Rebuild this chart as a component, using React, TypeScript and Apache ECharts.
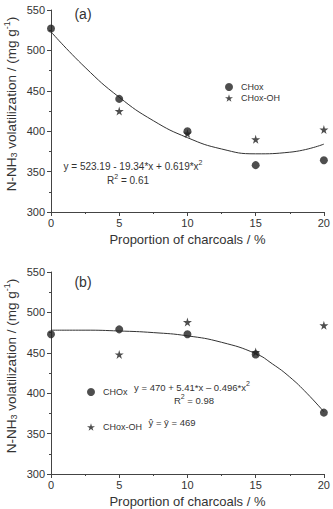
import React, { useEffect, useRef } from "react";
import * as echarts from "echarts";

const xValues = [0, 5, 10, 15, 20];
const xTicks = { min: 0, max: 20, interval: 5 };
const yTicks = { min: 300, max: 550, interval: 50 };

// Panel (a)
const aCHox = [527, 440, 400, 358, 364];
const aCHoxOH: (number | null)[] = [null, 425, 397, 390, 402];
const aFitX = [0, 2.5, 5, 7.5, 10, 12.5, 15, 17.5, 20];
const aFitY = [523, 479, 442, 413, 392, 378, 372, 374, 384];

// Panel (b)
const bCHOx = [473, 479, 473, 448, 376];
const bCHoxOH: (number | null)[] = [null, 448, 488, 451, 484];
const bFitX = [0, 2.5, 5, 7.5, 10, 12.5, 15, 16.25, 17.5, 18.75, 20];
const bFitY = [478, 478, 477, 475, 471, 463, 449, 436, 420, 400, 377];

const STAR =
  "path://M50,0 L61,35 L98,35 L68,57 L79,91 L50,70 L21,91 L32,57 L2,35 L39,35 Z";
const FONT = "'Liberation Sans', Arial, sans-serif";
const TXT = "#333";
const AXIS = "#444";
const MARK = "#222";

const pairs = (xs: number[], ys: (number | null)[]) =>
  xs.map((x, i) => [x, ys[i]]).filter((p) => p[1] !== null);

export default function App() {
  const ref = useRef<HTMLDivElement>(null);
  useEffect(() => {
    if (!ref.current) return;
    document.body.style.margin = "0";
    const chart = echarts.init(ref.current, undefined, { renderer: "svg" });

    const xAxisBase = (gridIndex: number) => ({
      type: "value",
      gridIndex,
      ...xTicks,
      name: "Proportion of charcoals / %",
      nameLocation: "middle",
      nameGap: 21,
      nameTextStyle: { fontSize: 13, color: TXT, fontFamily: FONT },
      axisLine: { show: true, lineStyle: { color: AXIS, width: 1 } },
      axisTick: { show: true, length: 4, lineStyle: { color: AXIS } },
      minorTick: { show: true, splitNumber: 2, length: 2, lineStyle: { color: AXIS } },
      axisLabel: { fontSize: 11, color: TXT, fontFamily: FONT, margin: 5 },
      splitLine: { show: false },
    });
    const yAxisBase = (gridIndex: number) => ({
      type: "value",
      gridIndex,
      ...yTicks,
      axisLine: { show: true, lineStyle: { color: AXIS, width: 1 } },
      axisTick: { show: true, length: 4, lineStyle: { color: AXIS } },
      minorTick: { show: true, splitNumber: 2, length: 2, lineStyle: { color: AXIS } },
      axisLabel: { fontSize: 11, color: TXT, fontFamily: FONT, margin: 6 },
      splitLine: { show: false },
    });

    const rich = {
      sup: { fontSize: 7, fontFamily: FONT, color: TXT, padding: [0, 0, 7, 0] },
      sub: { fontSize: 9, fontFamily: FONT, color: TXT, padding: [6, 0, 0, 0] },
      supT: { fontSize: 9, fontFamily: FONT, color: TXT, padding: [0, 0, 8, 0] },
    };

    const txt = (x: number, y: number, text: string, fontSize = 10, extra: any = {}) => ({
      type: "text",
      x,
      y,
      style: {
        text,
        fontSize,
        fontFamily: FONT,
        fill: TXT,
        align: "center",
        verticalAlign: "middle",
        rich,
        ...extra,
      },
    });

    const yTitle = "N-NH{sub|3} volatilization / (mg g{supT|-1})";
    const yTitleEl = (y: number) => ({
      type: "text",
      x: 11,
      y,
      rotation: Math.PI / 2,
      style: {
        text: yTitle,
        fontSize: 13.5,
        fontFamily: FONT,
        fill: TXT,
        align: "center",
        verticalAlign: "middle",
        rich,
      },
    });

    chart.setOption({
      animation: false,
      backgroundColor: "#fff",
      textStyle: { fontFamily: FONT },
      grid: [
        { left: 51, top: 10, width: 276, height: 202 },
        { left: 51, top: 272, width: 276, height: 202 },
      ],
      xAxis: [xAxisBase(0), xAxisBase(1)],
      yAxis: [yAxisBase(0), yAxisBase(1)],
      legend: [
        {
          data: ["CHox", "CHox-OH"],
          orient: "vertical",
          left: 220,
          top: 77,
          itemWidth: 8,
          itemHeight: 8,
          itemGap: 1,
          textStyle: { fontSize: 9, color: TXT, fontFamily: FONT, lineHeight: 10, padding: [0, 0, 0, 3] },
        },
        {
          data: ["CHOx", "CHox-OH"],
          orient: "vertical",
          left: 82,
          top: 382,
          itemWidth: 8,
          itemHeight: 8,
          itemGap: 25,
          textStyle: { fontSize: 9, color: TXT, fontFamily: FONT, lineHeight: 10, padding: [0, 0, 0, 3] },
        },
      ],
      series: [
        {
          type: "line",
          name: "fit (a)",
          xAxisIndex: 0,
          yAxisIndex: 0,
          data: pairs(aFitX, aFitY),
          smooth: 0.5,
          showSymbol: false,
          lineStyle: { color: "#333", width: 1 },
          z: 1,
        },
        {
          type: "scatter",
          name: "CHox-OH",
          xAxisIndex: 0,
          yAxisIndex: 0,
          data: pairs(xValues, aCHoxOH),
          symbol: STAR,
          symbolSize: 9,
          itemStyle: { color: MARK },
          z: 2,
        },
        {
          type: "scatter",
          name: "CHox",
          xAxisIndex: 0,
          yAxisIndex: 0,
          data: pairs(xValues, aCHox),
          symbol: "circle",
          symbolSize: 8,
          itemStyle: { color: MARK },
          z: 3,
        },
        {
          type: "line",
          name: "fit (b)",
          xAxisIndex: 1,
          yAxisIndex: 1,
          data: pairs(bFitX, bFitY),
          smooth: 0.5,
          showSymbol: false,
          lineStyle: { color: "#333", width: 1 },
          z: 1,
        },
        {
          type: "scatter",
          name: "CHox-OH",
          xAxisIndex: 1,
          yAxisIndex: 1,
          data: pairs(xValues, bCHoxOH),
          symbol: STAR,
          symbolSize: 9,
          itemStyle: { color: MARK },
          z: 2,
        },
        {
          type: "scatter",
          name: "CHOx",
          xAxisIndex: 1,
          yAxisIndex: 1,
          data: pairs(xValues, bCHOx),
          symbol: "circle",
          symbolSize: 8,
          itemStyle: { color: MARK },
          z: 3,
        },
      ],
      graphic: [
        txt(83, 14, "(a)", 14),
        txt(83, 282, "(b)", 14),
        txt(133, 166, "y = 523.19 - 19.34*x + 0.619*x{sup|2}", 10),
        txt(128, 180, "R{sup|2} = 0.61", 10),
        txt(192, 387, "y = 470 + 5.41*x \u2013 0.496*x{sup|2}", 9.5),
        txt(194, 400, "R{sup|2} = 0.98", 9.5),
        txt(172, 422, "\u0177 = \u0233 = 469", 9.5),
        yTitleEl(104),
        yTitleEl(366),
      ],
    });
    return () => chart.dispose();
  }, []);
  return (
    <div
      ref={ref}
      style={{ position: "absolute", left: 0, top: 0, width: 333, height: 509 }}
    />
  );
}
